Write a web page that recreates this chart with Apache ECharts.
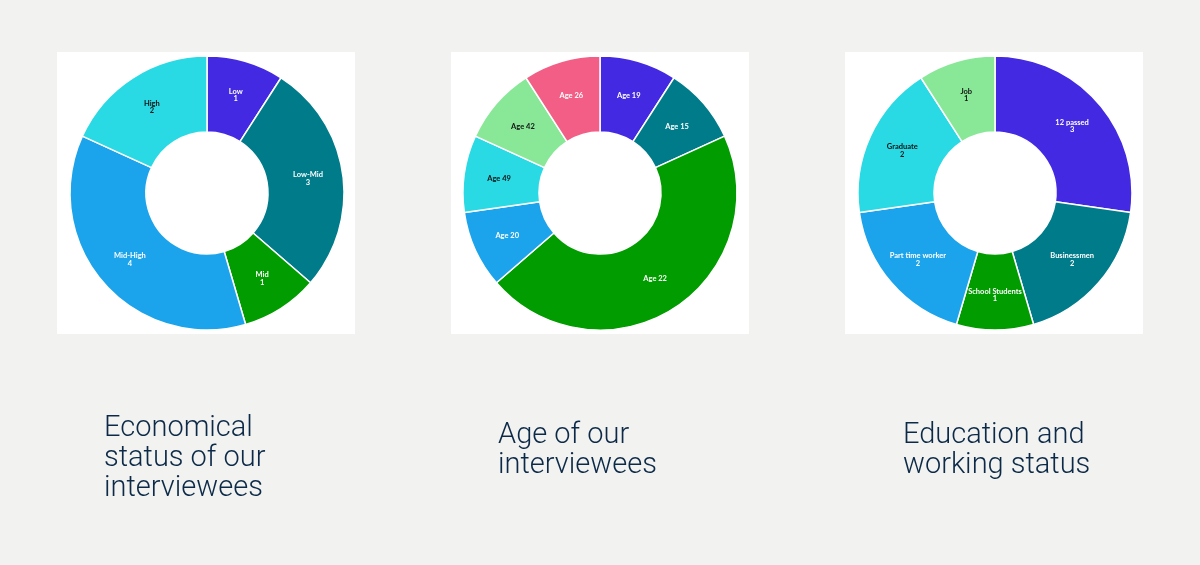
<!DOCTYPE html>
<html>
<head>
<meta charset="utf-8">
<script src="https://cdn.jsdelivr.net/npm/echarts@6/dist/echarts.min.js"></script>
<style>
html,body{margin:0;padding:0;background:#f2f2f0;}
#c{width:1200px;height:565px;}
</style>
</head>
<body>
<div id="c"></div>
<script>
// ---- data ----
const econNames = ['Low', 'Low-Mid', 'Mid', 'Mid-High', 'High'];
const econValues = [1, 3, 1, 4, 2];
const ageNames = ['Age 19', 'Age 15', 'Age 22', 'Age 20', 'Age 49', 'Age 42', 'Age 26'];
const ageValues = [1, 1, 5, 1, 1, 1, 1];
const eduNames = ['12 passed', 'Businessmen', 'School Students', 'Part time worker', 'Graduate', 'Job'];
const eduValues = [3, 2, 1, 2, 2, 1];
const titles = ['Economical\nstatus of our\ninterviewees', 'Age of our\ninterviewees', 'Education and\nworking status'];

// ---- styles ----
const C = {
  purple: '#4429e2', teal: '#007b8a', green: '#009c00', blue: '#1ba3eb',
  cyan: '#29d9e3', lgreen: '#88e898', pink: '#f25e86'
};
const econColors = [C.purple, C.teal, C.green, C.blue, C.cyan];
const ageColors = [C.purple, C.teal, C.green, C.blue, C.cyan, C.lgreen, C.pink];
const eduColors = [C.purple, C.teal, C.green, C.blue, C.cyan, C.lgreen];
const darkText = new Set([C.cyan, C.lgreen]);

const econShowValue = true, ageShowValue = false, eduShowValue = true;

function buildData(names, values, colors, showValue) {
  return names.map((n, i) => ({
    name: n, value: values[i],
    itemStyle: { color: colors[i] },
    label: {
      color: darkText.has(colors[i]) ? '#111' : '#fff',
      formatter: showValue ? '{b}\n{c}' : '{b}'
    }
  }));
}

const centersX = [207, 600, 995];
const centerY = 193;
const panelX = [57, 451, 845];

function pie(data, cx) {
  return {
    type: 'pie',
    center: [cx, centerY],
    radius: [61, 137],
    startAngle: 90,
    clockwise: true,
    avoidLabelOverlap: false,
    silent: true,
    itemStyle: { borderColor: '#fff', borderWidth: 1.5 },
    label: {
      show: true, position: 'inside',
      fontFamily: 'Lato', fontSize: 7.5, fontWeight: 'bold', lineHeight: 7.5
    },
    labelLine: { show: false },
    emphasis: { disabled: true },
    data: data
  };
}

const titleLeft = [104, 498, 903];
const titleTop = [414, 421, 421];

const chart = echarts.init(document.getElementById('c'), null, { renderer: 'canvas' });
chart.setOption({
  backgroundColor: '#f2f2f0',
  animation: false,
  graphic: panelX.map(x => ({
    type: 'rect', left: x, top: 52, z: -10,
    shape: { width: 298, height: 282 },
    style: { fill: '#ffffff' }
  })),
  title: titles.map((t, i) => ({
    text: t, left: titleLeft[i], top: titleTop[i], padding: 0,
    textStyle: {
      fontFamily: 'Roboto', fontWeight: 300, fontSize: 29, lineHeight: 30,
      color: '#0c2a48'
    }
  })),
  series: [
    pie(buildData(econNames, econValues, econColors, econShowValue), centersX[0]),
    pie(buildData(ageNames, ageValues, ageColors, ageShowValue), centersX[1]),
    pie(buildData(eduNames, eduValues, eduColors, eduShowValue), centersX[2])
  ]
});
</script>
</body>
</html>
